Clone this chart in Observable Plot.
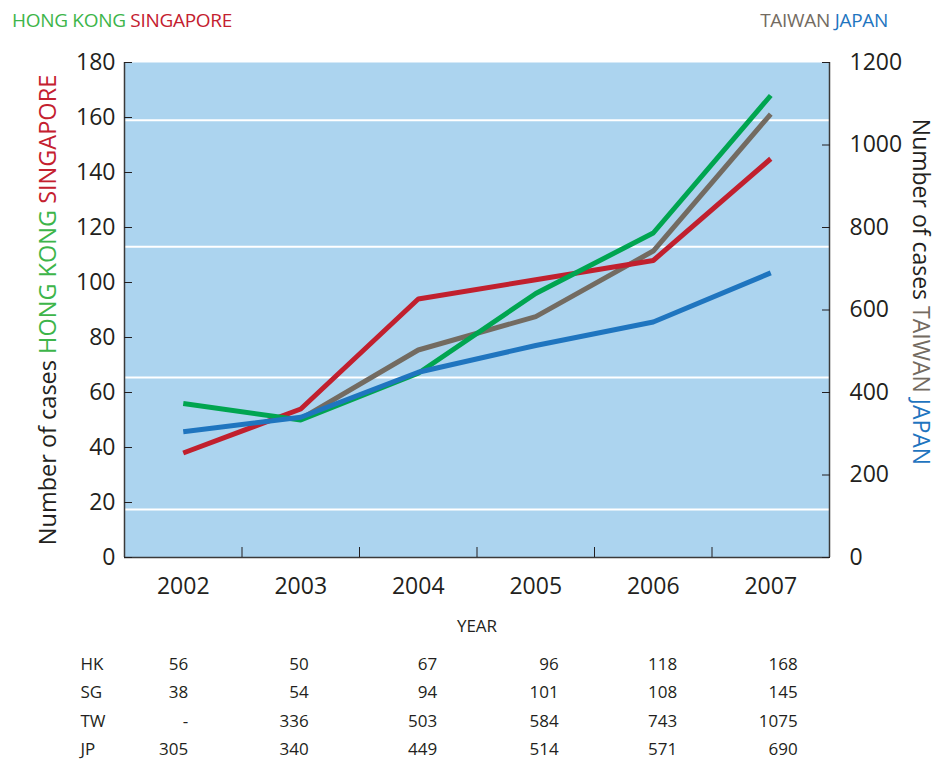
<!DOCTYPE html>
<html>
<head>
<meta charset="utf-8">
<script src="https://cdn.jsdelivr.net/npm/d3@7"></script>
<script src="https://cdn.jsdelivr.net/npm/@observablehq/plot@0.6"></script>
<style>
  body { margin: 0; background: #fff; }
  #header { position: relative; width: 939px; height: 40px; }
  .leg { position: absolute; top: 11px; line-height: 1; font-size: 19px; letter-spacing: -0.3px;
         font-family: "Open Sans", sans-serif; white-space: nowrap; }
</style>
</head>
<body>
<div id="header">
  <div class="leg" style="left:12px"><span style="color:#3db54a">HONG KONG</span> <span style="color:#c4202f">SINGAPORE</span></div>
  <div class="leg" style="right:51px"><span style="color:#736b61">TAIWAN</span> <span style="color:#1f75bf">JAPAN</span></div>
</div>
<div id="chart"></div>
<script>
// ---- data ----
const years = [2002, 2003, 2004, 2005, 2006, 2007];
const hongKong = [56, 50, 67, 96, 118, 168];
const singapore = [38, 54, 94, 101, 108, 145];
const taiwan = [null, 336, 503, 584, 743, 1075];
const japan = [305, 340, 449, 514, 571, 690];
const rowLabels = ["HK", "SG", "TW", "JP"];
const leftTicks = [0, 20, 40, 60, 80, 100, 120, 140, 160, 180];
const rightTicks = [0, 200, 400, 600, 800, 1000, 1200];
const gridValues = [17.5, 65.5, 113, 159]; // white horizontal lines (left-axis units)

// ---- scales / helpers ----
const leftMax = 180, rightMax = 1200;
const k = leftMax / rightMax; // right-axis units -> left-axis units
const xDomain = [years[0] - 0.5, years[years.length - 1] + 0.5];
const boundaries = years.slice(1).map(y => y - 0.5);

const colors = { hk: "#00a550", sg: "#c1202e", tw: "#736b61", jp: "#1f75bf" };
const series = [
  { key: "tw", values: taiwan, s: k },
  { key: "sg", values: singapore, s: 1 },
  { key: "hk", values: hongKong, s: 1 },
  { key: "jp", values: japan, s: k }
];
const toRecords = (values, s) =>
  years.map((year, i) => ({ year, v: values[i] == null ? null : values[i] * s }))
       .filter(d => d.v != null);

const tableCols = years.map((year, i) => ({
  year,
  text: [hongKong[i], singapore[i], taiwan[i] == null ? "-" : taiwan[i], japan[i]].join("\n")
}));
const colDx = [5, 8, 19, 23, 24, 27];
const narrow = "'Open Sans', sans-serif";
const ink = "#231f20";

const chart = Plot.plot({
  width: 939,
  height: 723,
  marginTop: 22,
  marginBottom: 206,
  marginLeft: 124,
  marginRight: 110,
  style: { fontFamily: "'Open Sans', sans-serif", fontSize: "23px", color: ink, background: "white", overflow: "visible" },
  x: { type: "linear", domain: xDomain, axis: null },
  y: { domain: [0, leftMax], axis: null },
  marks: [
    Plot.frame({ fill: "#acd4ef", stroke: null }),
    Plot.ruleY(gridValues, { stroke: "white", strokeWidth: 2 }),
    ...series.map(sr => Plot.lineY(toRecords(sr.values, sr.s), {
      x: "year", y: "v", stroke: colors[sr.key], strokeWidth: 5,
      strokeLinejoin: "miter", strokeLinecap: "butt"
    })),
    Plot.ruleX(xDomain, { stroke: "#3a3a3a", strokeWidth: 1.5 }),
    Plot.ruleY([0], { stroke: "#3a3a3a", strokeWidth: 1.5 }),
    // left axis
    Plot.axisY(leftTicks, { anchor: "left", tickSize: -8, tickPadding: 17, label: null, stroke: ink, fontSize: 23 }),
    // right axis (mapped)
    Plot.axisY(rightTicks.map(v => v * k), {
      anchor: "right", tickSize: -8, tickPadding: 28, label: null, stroke: ink, fontSize: 23,
      tickFormat: d => String(Math.round(d / k))
    }),
    // year labels
    Plot.axisX(years, { anchor: "bottom", tickSize: 0, tickPadding: 20, label: null, fontSize: 23, tickFormat: d => String(d) }),
    // inner ticks at band boundaries
    Plot.axisX(boundaries, { anchor: "bottom", tickSize: -10, label: null, stroke: ink, tickFormat: () => "" }),
    // YEAR label
    Plot.text(["YEAR"], { frameAnchor: "bottom", dy: 74, fontSize: 17, fontFamily: narrow, fill: ink }),
    // data table
    ...tableCols.map((c, i) => Plot.text([c], {
      x: "year", text: "text", frameAnchor: "bottom", dy: 93, dx: colDx[i],
      textAnchor: "end", lineAnchor: "top", lineHeight: 1.65, fontSize: 17, fontFamily: narrow, fill: ink
    })),
    Plot.text([rowLabels.join("\n")], {
      x: xDomain[0], frameAnchor: "bottom", dy: 93, dx: -44, textAnchor: "start",
      lineAnchor: "top", lineHeight: 1.65, fontSize: 17, fontFamily: narrow, fill: ink
    })
  ]
});

document.getElementById("chart").appendChild(chart);

// rotated, multi-coloured axis titles
const svg = d3.select(chart);
const lt = svg.append("text")
  .attr("transform", "translate(47,270) rotate(-90)")
  .attr("text-anchor", "middle").attr("dominant-baseline", "central")
  .style("font-size", "23.5px").style("font-family", "'Open Sans', sans-serif");
lt.append("tspan").attr("fill", ink).text("Number of cases ");
lt.append("tspan").attr("fill", "#3db54a").text("HONG KONG ");
lt.append("tspan").attr("fill", "#c4202f").text("SINGAPORE");

const rt = svg.append("text")
  .attr("transform", "translate(922,252) rotate(90)")
  .attr("text-anchor", "middle").attr("dominant-baseline", "central")
  .style("font-size", "23px").style("font-family", "'Open Sans', sans-serif");
rt.append("tspan").attr("fill", ink).text("Number of cases ");
rt.append("tspan").attr("fill", "#736b61").text("TAIWAN ");
rt.append("tspan").attr("fill", "#1f75bf").text("JAPAN");
</script>
</body>
</html>
